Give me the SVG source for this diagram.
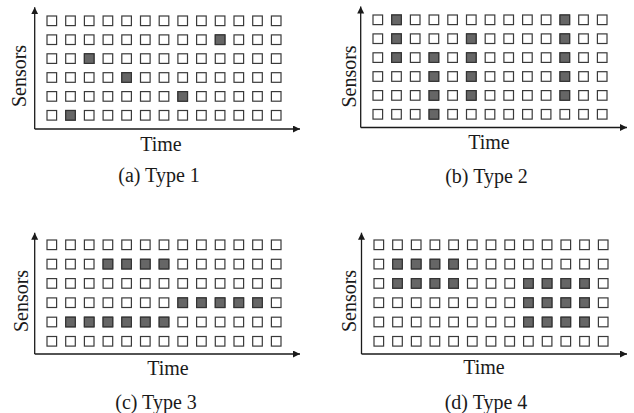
<svg xmlns="http://www.w3.org/2000/svg" xmlns:xlink="http://www.w3.org/1999/xlink" width="634" height="413" viewBox="0 0 634 413">
<style>
.e{fill:#fff;stroke:#3a3a3a;stroke-width:1.2}
.f{fill:#666;stroke:#333;stroke-width:1.2}
.ax{stroke:#1a1a1a;stroke-width:1.3;fill:none;marker-end:url(#arr)}
.t{font-family:"Liberation Serif","Times New Roman",serif;font-size:20px;fill:#1a1a1a;text-anchor:middle}
</style>
<defs>
<marker id="arr" markerUnits="userSpaceOnUse" markerWidth="8" markerHeight="8" refX="7" refY="3.5" orient="auto">
<path d="M0,0 L7,3.5 L0,7 z" fill="#1a1a1a"/>
</marker>
<g id="row">
<rect class="e" x="0" y="0" width="9.6" height="9.6"/>
<rect class="e" x="18.7" y="0" width="9.6" height="9.6"/>
<rect class="e" x="37.4" y="0" width="9.6" height="9.6"/>
<rect class="e" x="56.1" y="0" width="9.6" height="9.6"/>
<rect class="e" x="74.8" y="0" width="9.6" height="9.6"/>
<rect class="e" x="93.5" y="0" width="9.6" height="9.6"/>
<rect class="e" x="112.2" y="0" width="9.6" height="9.6"/>
<rect class="e" x="130.9" y="0" width="9.6" height="9.6"/>
<rect class="e" x="149.6" y="0" width="9.6" height="9.6"/>
<rect class="e" x="168.3" y="0" width="9.6" height="9.6"/>
<rect class="e" x="187" y="0" width="9.6" height="9.6"/>
<rect class="e" x="205.7" y="0" width="9.6" height="9.6"/>
<rect class="e" x="224.4" y="0" width="9.6" height="9.6"/>
</g>
</defs>

<g id="connectors">
<line class="ax" x1="34.7" y1="129" x2="34.7" y2="7.3"/>
<line class="ax" x1="34.7" y1="129" x2="300" y2="129"/>
<line class="ax" x1="360.7" y1="127.5" x2="360.7" y2="6.5"/>
<line class="ax" x1="360.7" y1="127.5" x2="627" y2="127.5"/>
<line class="ax" x1="34.7" y1="354" x2="34.7" y2="232.7"/>
<line class="ax" x1="34.7" y1="354" x2="300" y2="354"/>
<line class="ax" x1="361.5" y1="354" x2="361.5" y2="232.7"/>
<line class="ax" x1="361.5" y1="354" x2="627" y2="354"/>
</g>

<g id="panel-a">
<g transform="translate(47,16)">
<use xlink:href="#row" y="0"/>
<use xlink:href="#row" y="18.9"/>
<use xlink:href="#row" y="37.8"/>
<use xlink:href="#row" y="56.7"/>
<use xlink:href="#row" y="75.6"/>
<use xlink:href="#row" y="94.5"/>
<rect class="f" x="168.3" y="18.9" width="9.6" height="9.6"/>
<rect class="f" x="37.4" y="37.8" width="9.6" height="9.6"/>
<rect class="f" x="74.8" y="56.7" width="9.6" height="9.6"/>
<rect class="f" x="130.9" y="75.6" width="9.6" height="9.6"/>
<rect class="f" x="18.7" y="94.5" width="9.6" height="9.6"/>
</g>
<text class="t" transform="translate(26,76) rotate(-90)">Sensors</text>
<text class="t" x="161" y="150.5">Time</text>
<text class="t" x="159" y="182">(a) Type 1</text>
</g>

<g id="panel-b">
<g transform="translate(373,15)">
<use xlink:href="#row" y="0"/>
<use xlink:href="#row" y="18.9"/>
<use xlink:href="#row" y="37.8"/>
<use xlink:href="#row" y="56.7"/>
<use xlink:href="#row" y="75.6"/>
<use xlink:href="#row" y="94.5"/>
<rect class="f" x="18.7" y="0" width="9.6" height="9.6"/>
<rect class="f" x="187" y="0" width="9.6" height="9.6"/>
<rect class="f" x="18.7" y="18.9" width="9.6" height="9.6"/>
<rect class="f" x="93.5" y="18.9" width="9.6" height="9.6"/>
<rect class="f" x="187" y="18.9" width="9.6" height="9.6"/>
<rect class="f" x="18.7" y="37.8" width="9.6" height="9.6"/>
<rect class="f" x="56.1" y="37.8" width="9.6" height="9.6"/>
<rect class="f" x="93.5" y="37.8" width="9.6" height="9.6"/>
<rect class="f" x="187" y="37.8" width="9.6" height="9.6"/>
<rect class="f" x="56.1" y="56.7" width="9.6" height="9.6"/>
<rect class="f" x="93.5" y="56.7" width="9.6" height="9.6"/>
<rect class="f" x="187" y="56.7" width="9.6" height="9.6"/>
<rect class="f" x="56.1" y="75.6" width="9.6" height="9.6"/>
<rect class="f" x="93.5" y="75.6" width="9.6" height="9.6"/>
<rect class="f" x="187" y="75.6" width="9.6" height="9.6"/>
<rect class="f" x="56.1" y="94.5" width="9.6" height="9.6"/>
</g>
<text class="t" transform="translate(355.5,76.5) rotate(-90)">Sensors</text>
<text class="t" x="489" y="148.5">Time</text>
<text class="t" x="486.5" y="182.5">(b) Type 2</text>
</g>

<g id="panel-c">
<g transform="translate(47,240)">
<use xlink:href="#row" y="0"/>
<use xlink:href="#row" y="19.3"/>
<use xlink:href="#row" y="38.6"/>
<use xlink:href="#row" y="57.9"/>
<use xlink:href="#row" y="77.2"/>
<use xlink:href="#row" y="96.5"/>
<rect class="f" x="56.1" y="19.3" width="9.6" height="9.6"/>
<rect class="f" x="74.8" y="19.3" width="9.6" height="9.6"/>
<rect class="f" x="93.5" y="19.3" width="9.6" height="9.6"/>
<rect class="f" x="112.2" y="19.3" width="9.6" height="9.6"/>
<rect class="f" x="130.9" y="57.9" width="9.6" height="9.6"/>
<rect class="f" x="149.6" y="57.9" width="9.6" height="9.6"/>
<rect class="f" x="168.3" y="57.9" width="9.6" height="9.6"/>
<rect class="f" x="187" y="57.9" width="9.6" height="9.6"/>
<rect class="f" x="205.7" y="57.9" width="9.6" height="9.6"/>
<rect class="f" x="18.7" y="77.2" width="9.6" height="9.6"/>
<rect class="f" x="37.4" y="77.2" width="9.6" height="9.6"/>
<rect class="f" x="56.1" y="77.2" width="9.6" height="9.6"/>
<rect class="f" x="74.8" y="77.2" width="9.6" height="9.6"/>
<rect class="f" x="93.5" y="77.2" width="9.6" height="9.6"/>
<rect class="f" x="112.2" y="77.2" width="9.6" height="9.6"/>
</g>
<text class="t" transform="translate(28,301) rotate(-90)">Sensors</text>
<text class="t" x="168" y="375">Time</text>
<text class="t" x="156" y="409">(c) Type 3</text>
</g>

<g id="panel-d">
<g transform="translate(374,240)">
<use xlink:href="#row" y="0"/>
<use xlink:href="#row" y="19.3"/>
<use xlink:href="#row" y="38.6"/>
<use xlink:href="#row" y="57.9"/>
<use xlink:href="#row" y="77.2"/>
<use xlink:href="#row" y="96.5"/>
<rect class="f" x="18.7" y="19.3" width="9.6" height="9.6"/>
<rect class="f" x="37.4" y="19.3" width="9.6" height="9.6"/>
<rect class="f" x="56.1" y="19.3" width="9.6" height="9.6"/>
<rect class="f" x="74.8" y="19.3" width="9.6" height="9.6"/>
<rect class="f" x="18.7" y="38.6" width="9.6" height="9.6"/>
<rect class="f" x="37.4" y="38.6" width="9.6" height="9.6"/>
<rect class="f" x="56.1" y="38.6" width="9.6" height="9.6"/>
<rect class="f" x="74.8" y="38.6" width="9.6" height="9.6"/>
<rect class="f" x="149.6" y="38.6" width="9.6" height="9.6"/>
<rect class="f" x="168.3" y="38.6" width="9.6" height="9.6"/>
<rect class="f" x="187" y="38.6" width="9.6" height="9.6"/>
<rect class="f" x="205.7" y="38.6" width="9.6" height="9.6"/>
<rect class="f" x="149.6" y="57.9" width="9.6" height="9.6"/>
<rect class="f" x="168.3" y="57.9" width="9.6" height="9.6"/>
<rect class="f" x="187" y="57.9" width="9.6" height="9.6"/>
<rect class="f" x="205.7" y="57.9" width="9.6" height="9.6"/>
<rect class="f" x="149.6" y="77.2" width="9.6" height="9.6"/>
<rect class="f" x="168.3" y="77.2" width="9.6" height="9.6"/>
<rect class="f" x="187" y="77.2" width="9.6" height="9.6"/>
<rect class="f" x="205.7" y="77.2" width="9.6" height="9.6"/>
</g>
<text class="t" transform="translate(355.5,301) rotate(-90)">Sensors</text>
<text class="t" x="484" y="374">Time</text>
<text class="t" x="486" y="409">(d) Type 4</text>
</g>
</svg>
